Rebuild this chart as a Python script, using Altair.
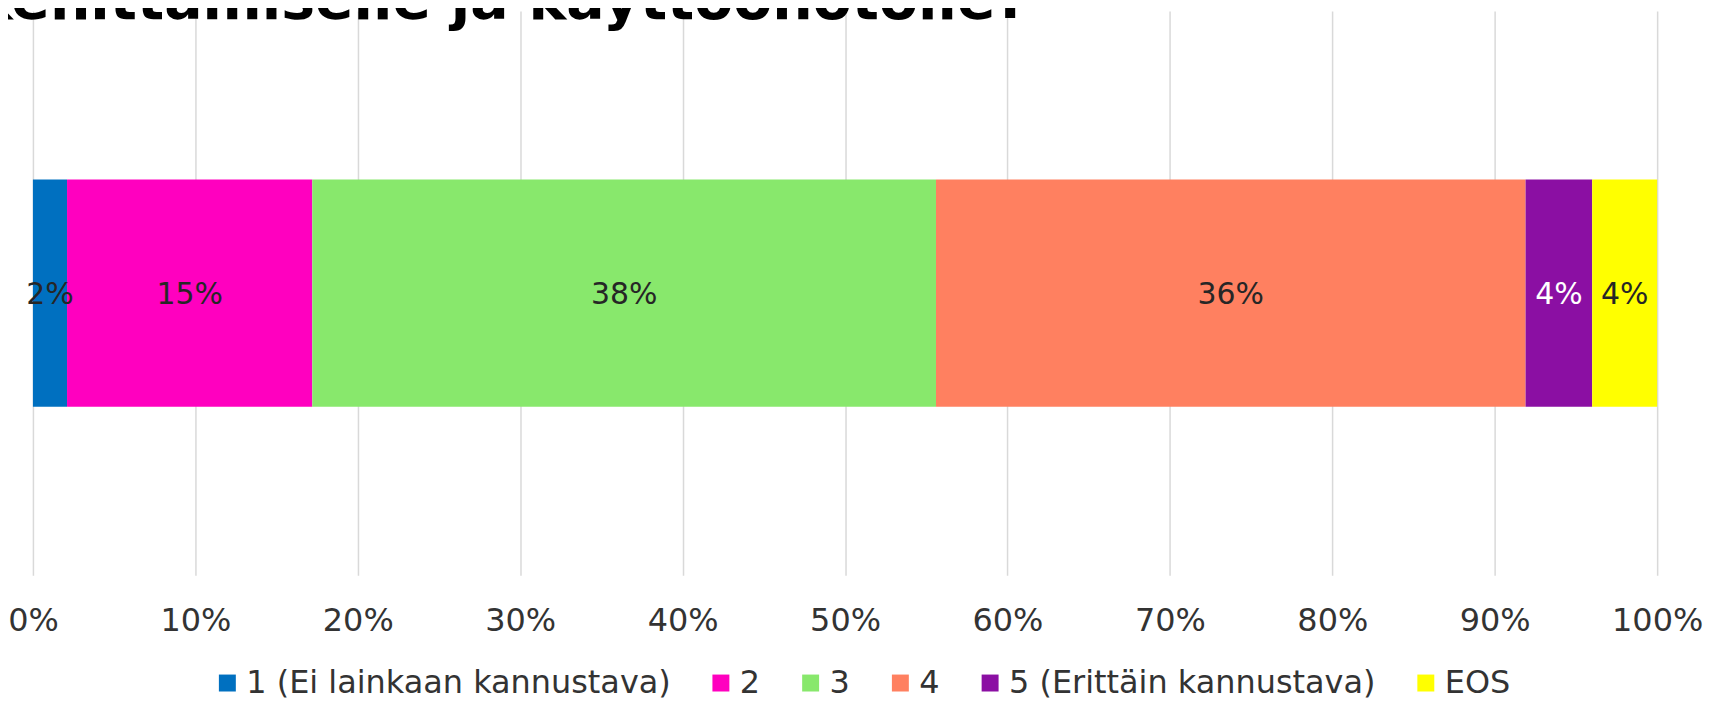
import altair as alt
import pandas as pd

categories = ["1 (Ei lainkaan kannustava)", "2", "3", "4", "5 (Erittäin kannustava)", "EOS"]
values = [2.1, 15.1, 38.4, 36.3, 4.1, 4.0]
labels = ["2%", "15%", "38%", "36%", "4%", "4%"]
colors = ["#0070C0", "#FF00BF", "#88E86C", "#FF8060", "#8B0FA3", "#FFFF00"]
tick_values = [0, 10, 20, 30, 40, 50, 60, 70, 80, 90, 100]
title_text = ["kehittämiselle ja käyttöönotolle?"]

df = pd.DataFrame({
    "cat": categories,
    "value": values,
    "label": labels,
    "order": list(range(len(categories))),
    "row": ["q"] * len(categories),
})
title_df = pd.DataFrame({"t": title_text})

FONT = "DejaVu Sans"

base = alt.Chart(df).transform_stack(
    stack="value", as_=["x0", "x1"], groupby=["row"], sort=[alt.SortField("order")]
).transform_calculate(mid="(datum.x0 + datum.x1) / 2")

yenc = alt.Y("row:N", axis=None, scale=alt.Scale(paddingInner=0, paddingOuter=0.741))

bars = base.mark_bar().encode(
    x=alt.X(
        "x0:Q",
        scale=alt.Scale(domain=[0, 100], nice=False),
        axis=alt.Axis(
            values=tick_values,
            labelExpr="datum.value + '%'",
            grid=True,
            gridColor="#D9D9D9",
            gridWidth=1.5,
            domain=False,
            ticks=False,
            tickSize=0,
            labelFont=FONT,
            labelFontSize=32,
            labelColor="#333333",
            labelPadding=30,
            labelFlush=False,
            labelOverlap=False,
        ),
        title=None,
    ),
    x2="x1:Q",
    y=yenc,
    color=alt.Color(
        "cat:N",
        scale=alt.Scale(domain=categories, range=colors),
        legend=alt.Legend(
            orient="none",
            legendX=179,
            legendY=658,
            direction="horizontal",
            title=None,
            symbolType="square",
            symbolSize=289,
            symbolStrokeWidth=0,
            symbolOpacity=1,
            labelFont=FONT,
            labelFontSize=32,
            labelColor="#333333",
            labelLimit=2000,
            labelOffset=3,
            columnPadding=34,
        ),
    ),
    order=alt.Order("order:Q"),
)

text = base.mark_text(font=FONT, fontSize=30, baseline="middle", align="center", dy=2).encode(
    x="mid:Q",
    y=yenc,
    text="label:N",
    color=alt.condition(alt.datum.cat == "5 (Erittäin kannustava)", alt.value("#FFFFFF"), alt.value("#262626")),
)

title_mark = alt.Chart(title_df).mark_text(
    font=FONT, fontSize=57, fontWeight="bold", color="#000000",
    align="left", baseline="alphabetic",
).encode(
    x=alt.value(-58),
    y=alt.value(8),
    text="t:N",
)

chart = alt.layer(bars, text, title_mark).properties(
    width=1629,
    height=566,
    autosize=alt.AutoSizeParams(type="none"),
    padding={"left": 25, "top": 2, "right": 48, "bottom": 124},
).configure_view(stroke=None)

chart.save("out.html", embed_options={"renderer": "svg", "actions": False})
